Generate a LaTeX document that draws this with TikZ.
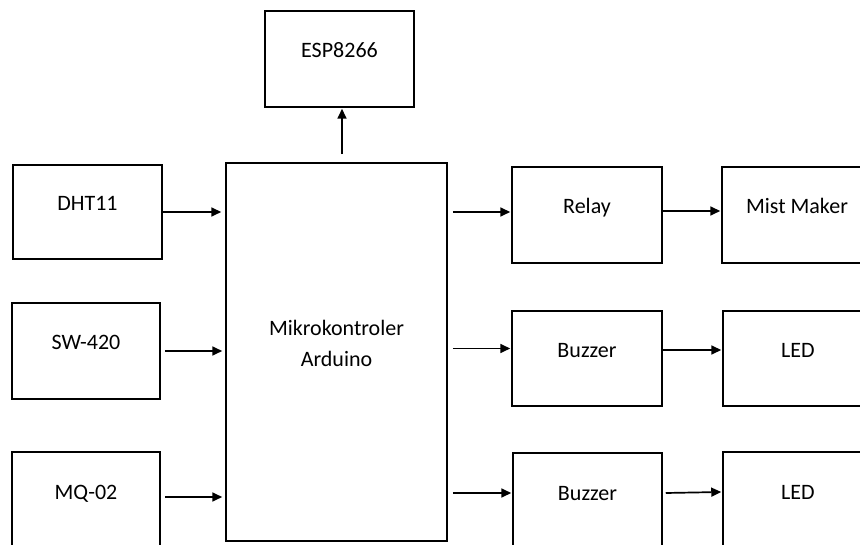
\documentclass[tikz,border=0pt]{standalone}
\usepackage{fontspec}
\setmainfont{Carlito}
\usetikzlibrary{arrows.meta}
\begin{document}
\begin{tikzpicture}[x=1pt,y=-1pt,
  every node/.style={font=\fontsize{22}{32}\selectfont},
  blk/.style={draw,line width=1.5pt,minimum width=149pt,minimum height=96pt,inner sep=0pt,text height=15pt,text depth=17pt},
  arr/.style={line width=1.7pt,-{Triangle[length=10pt,width=9pt]}}]
  \useasboundingbox (0,0) rectangle (860,545);
  \clip (0,0) rectangle (860,545);
  % controller and wifi module
  \node[blk,minimum width=221pt,minimum height=378pt,align=center,text height=47pt,text depth=17pt] (mcu) at (336.5,352) {Mikrokontroler\\Arduino};
  \node[blk] (esp) at (339.5,59) {ESP8266};
  % sensors
  \node[blk,minimum height=94pt] (dht) at (87.5,212) {DHT11};
  \node[blk,minimum width=148pt] (sw) at (86,351) {SW-420};
  \node[blk,minimum width=148pt] (mq) at (86,500) {MQ-02};
  % outputs
  \node[blk,minimum width=150pt] (relay) at (587,215) {Relay};
  \node[blk,minimum width=150pt] (mist) at (797,215) {Mist Maker};
  \node[blk,minimum width=150pt,minimum height=95pt] (buz1) at (587,358.5) {Buzzer};
  \node[blk,minimum width=150pt,minimum height=95pt] (led1) at (798,358.5) {LED};
  \node[blk] (buz2) at (587.5,501) {Buzzer};
  \node[blk,minimum width=150pt] (led2) at (798,500) {LED};
  \draw[arr] ([xshift=5.5pt,yshift=8pt]mcu.north) -- ([xshift=5.5pt,yshift=-1pt]mcu.north |- esp.south);
  \draw[arr] (dht.east) -- ([xshift=-4pt]dht.east -| mcu.west);
  \draw[arr] ([xshift=4pt]sw.east) -- ([xshift=-3pt]sw.east -| mcu.west);
  \draw[arr] ([xshift=4pt,yshift=3pt]mq.east) -- ([xshift=-3pt,yshift=3pt]mq.east -| mcu.west);
  \draw[arr] ([xshift=5pt,yshift=3pt]mcu.east |- relay.west) -- ([xshift=-1pt,yshift=3pt]relay.west);
  \draw[arr] ([yshift=4pt]relay.east) -- ([xshift=-1pt,yshift=4pt]mist.west);
  \draw[arr] ([xshift=5pt,yshift=10pt]mcu.east |- buz1.west) -- ([xshift=-1pt,yshift=10pt]buz1.west);
  \draw[arr] ([yshift=8.5pt]buz1.east) -- ([xshift=-1pt,yshift=8.5pt]led1.west);
  \draw[arr] ([xshift=5pt,yshift=8pt]mcu.east |- buz2.west) -- ([xshift=-1pt,yshift=8pt]buz2.west);
  \draw[arr] ([xshift=3pt,yshift=8pt]buz2.east) -- ([xshift=-1pt,yshift=8pt]led2.west);
\end{tikzpicture}
\end{document}
